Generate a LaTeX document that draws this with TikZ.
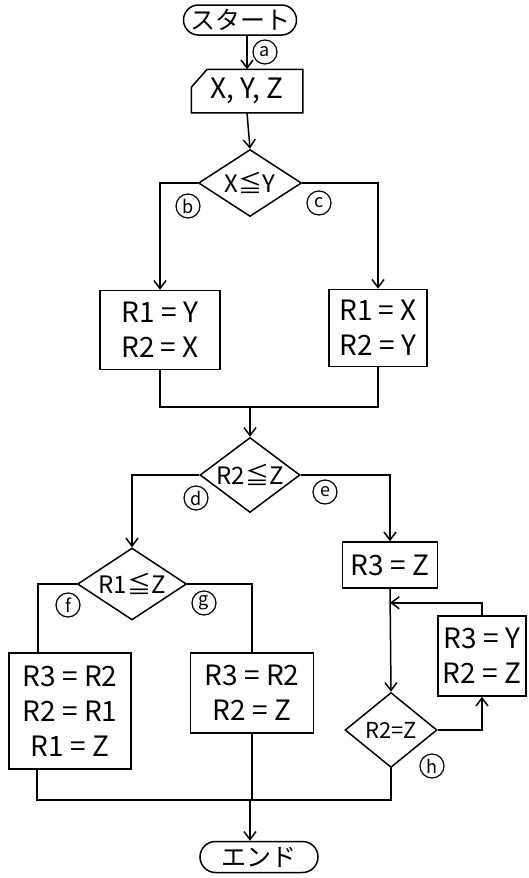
\documentclass[tikz,border=0pt]{standalone}
\usepackage{fontspec}
\setmainfont{Noto Sans CJK JP}
\usetikzlibrary{shapes.geometric,shapes.misc,arrows.meta}
\tikzset{
  extremo/.style={draw, rounded rectangle, inner sep=2pt, font=\fontsize{25}{27}\selectfont},
  entrada/.style={inner sep=2pt, font=\fontsize{28}{32}\selectfont},
  rombo/.style={draw, diamond, aspect=1.5, inner sep=0pt, font=\fontsize{24}{26}\selectfont},
  caja/.style={draw, align=center, inner sep=4pt, font=\fontsize{28}{35}\selectfont},
  marca/.style={draw, circle, inner sep=0pt, minimum size=24pt, line width=1.2pt, font=\fontsize{18}{18}\selectfont},
  flecha/.style={-{Straight Barb[length=8pt,width=12pt]}},
}
\begin{document}
\begin{tikzpicture}[x=1pt, y=-1pt, line width=1.5pt]
  \useasboundingbox (0,0) rectangle (529,878);
  \node[extremo, minimum width=106pt, minimum height=30pt] (inicio) at (240,20) {スタート};
  \node[entrada, minimum width=110pt, minimum height=42pt] (datos) at (247,91) {X, Y, Z};
  \draw ([yshift=-18pt]datos.north west) -- ([xshift=16pt]datos.north west) -- (datos.north east)
    -- (datos.south east) -- (datos.south west) -- cycle;
  \node[rombo, minimum width=103pt, minimum height=67pt] (q1) at (250,183) {X≦Y};
  \node[caja, minimum width=120pt, minimum height=79pt] (r1) at (160,330) {R1 = Y\\R2 = X};
  \node[caja, minimum width=98pt, minimum height=77pt] (r2) at (378,328) {R1 = X\\R2 = Y};
  \node[rombo, minimum width=100pt, minimum height=75pt] (q2) at (250,475) {R2≦Z};
  \node[caja, minimum width=95pt, minimum height=46pt] (r3) at (390,565) {R3 = Z};
  \node[rombo, minimum width=109pt, minimum height=72pt] (q3) at (132,584) {R1≦Z};
  \node[caja, minimum width=122pt, minimum height=116pt] (r4) at (70,711) {R3 = R2\\R2 = R1\\R1 = Z};
  \node[caja, minimum width=123pt, minimum height=80pt] (r5) at (252,693) {R3 = R2\\R2 = Z};
  \node[rombo, minimum width=92pt, minimum height=75pt, font=\fontsize{22}{24}\selectfont] (q4) at (391,730) {R2=Z};
  \node[caja, minimum width=88pt, minimum height=80pt] (r6) at (482,656) {R3 = Y\\R2 = Z};
  \node[extremo, minimum width=122pt, minimum height=31pt] (fin) at (259,857) {エンド};

  \draw[flecha] (inicio.south -| datos.north) -- (datos.north);
  \draw[flecha] (datos.south) -- (q1.north);
  \draw[flecha] (q1.west) -| (r1.north);
  \draw[flecha] (q1.east) -| (r2.north);
  \coordinate (j1) at (250,407);
  \draw (r1.south) |- (j1) -| (r2.south);
  \draw[flecha] (j1) -- (q2.north);
  \draw[flecha] (q2.west) -| (q3.north);
  \draw[flecha] (q2.east) -| (r3.north);
  \draw (q3.west) -| ([xshift=-32pt]r4.north);
  \draw (q3.east) -| (r5.north);
  \draw[flecha] (r3.south) -- (q4.north);
  \path (r3.south) ++(0,14) coordinate (j4);
  \draw[flecha] (q4.east) -| (r6.south);
  \draw[flecha] (r6.north) |- (j4);
  \coordinate (j2) at (250,800);
  \draw ([xshift=-33pt]r4.south) |- (q4.south |- j2) -- (q4.south);
  \draw (r5.south) -- (r5.south |- j2);
  \draw[flecha] (j2) -- (j2 |- fin.north);

  \node[marca] (la) at (265,52) {a};
  \node[marca] (lb) at (188,206) {b};
  \node[marca] (lc) at (319,203) {c};
  \node[marca] (ld) at (196,498) {d};
  \node[marca] (le) at (325,492) {e};
  \node[marca] (lf) at (68,605) {f};
  \node[marca] (lg) at (204,603) {g};
  \node[marca] (lh) at (432,766) {h};
\end{tikzpicture}
\end{document}
